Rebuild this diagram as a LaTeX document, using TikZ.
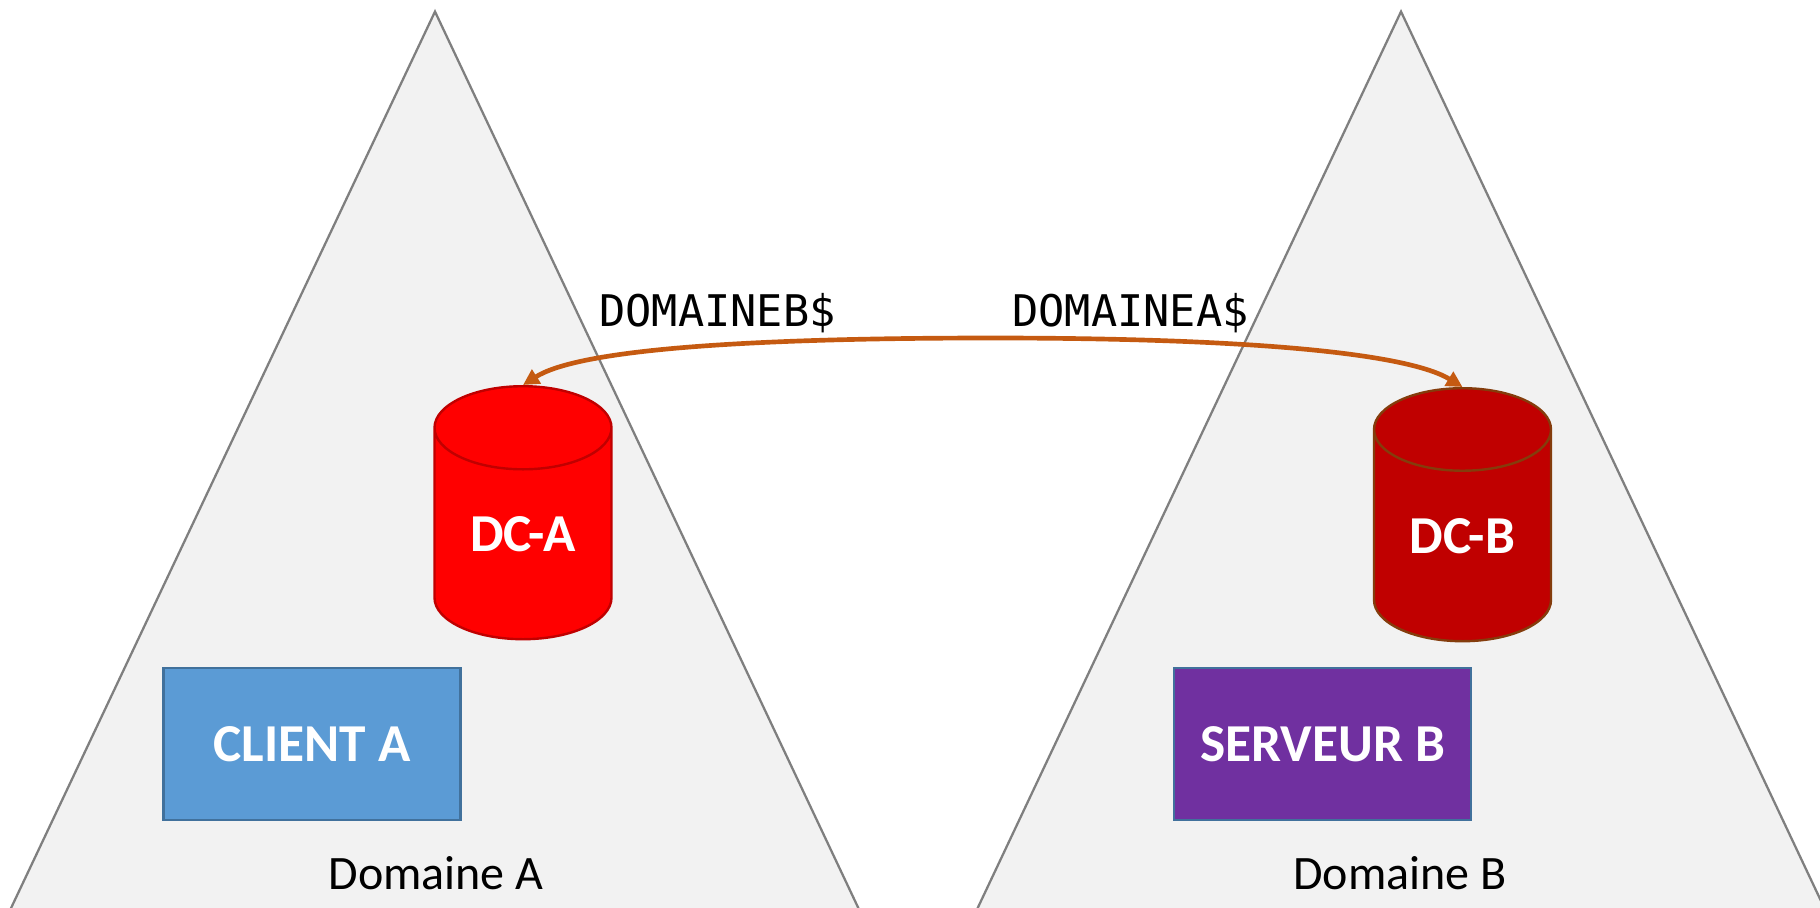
\documentclass[tikz,border=0pt]{standalone}
\usepackage{fontspec}
\setmainfont{Carlito}
\setmonofont{DejaVu Sans Mono}
\usetikzlibrary{shapes.geometric,arrows.meta}
\definecolor{domfill}{RGB}{242,242,242}
\definecolor{domline}{RGB}{127,127,127}
\definecolor{trustline}{RGB}{197,90,17}
\definecolor{posteline}{RGB}{65,113,156}
\tikzset{
  domaine/.style={draw=domline,fill=domfill,line width=1.7pt},
  dcbase/.style={cylinder,shape border rotate=90,aspect=0.785,minimum width=132.75pt,minimum height=189.75pt,inner sep=0pt,line width=1.8pt,cylinder uses custom fill,text=white,font=\fontsize{40}{48}\selectfont\bfseries},
  poste/.style={draw=posteline,line width=1.8pt,minimum width=222.5pt,minimum height=114pt,inner sep=0pt,text=white,font=\fontsize{40}{48}\selectfont\bfseries},
  titre/.style={inner sep=0.75pt,font=\fontsize{36}{43}\selectfont},
  compte/.style={inner sep=0.75pt,font=\fontsize{32.7}{39}\selectfont\ttfamily},
  trust/.style={draw=trustline,line width=3.5pt,{Triangle[length=12pt,width=12pt]}-{Triangle[length=12pt,width=12pt]}}
}
\begin{document}
\begin{tikzpicture}[x=0.75pt,y=0.75pt,yscale=-1,xscale=1]
    \useasboundingbox (0,0) rectangle (1820,907);
    \clip (0,0) rectangle (1820,907);
    %Shape: Triangle
    \draw [domaine] (435,11.6) -- (864,920) -- (5.4,920) -- cycle ;
    %Shape: Triangle
    \draw [domaine] (1401,11.6) -- (1830,920) -- (972,920) -- cycle ;
    %Shape: Can
    \node [dcbase,anchor=north,draw={rgb,255:red,192;green,0;blue,0},cylinder body fill={rgb,255:red,255;green,0;blue,0},cylinder end fill={rgb,255:red,255;green,0;blue,0}] (dca) at (523,385) {DC-A};
    %Shape: Can
    \node [dcbase,anchor=north,draw={rgb,255:red,132;green,60;blue,12},cylinder body fill={rgb,255:red,192;green,0;blue,0},cylinder end fill={rgb,255:red,192;green,0;blue,0}] (dcb) at (1462.5,387) {DC-B};
    %Shape: Rectangle
    \node [poste,fill={rgb,255:red,91;green,155;blue,213}] (clienta) at (312,744) {CLIENT A};
    %Shape: Rectangle
    \node [poste,fill={rgb,255:red,112;green,48;blue,160}] (serveurb) at (1322.5,744) {SERVEUR B};
    %Curve
    \coordinate (sommet) at (992,338);
    \draw [trust] (dca.north) .. controls (575,352) and (720,338) .. (sommet) .. controls (1265,338) and (1410,355) .. (dcb.north);

    % Text Node
    \node [compte] (compteb) at (717.5,313) {DOMAINEB\$};
    % Text Node
    \node [compte] (comptea) at (1130.5,313) {DOMAINEA\$};
    % Text Node
    \node [titre] (domainea) at (436,873) {Domaine A};
    % Text Node
    \node [titre] (domaineb) at (1400,873) {Domaine B};
\end{tikzpicture}
\end{document}
